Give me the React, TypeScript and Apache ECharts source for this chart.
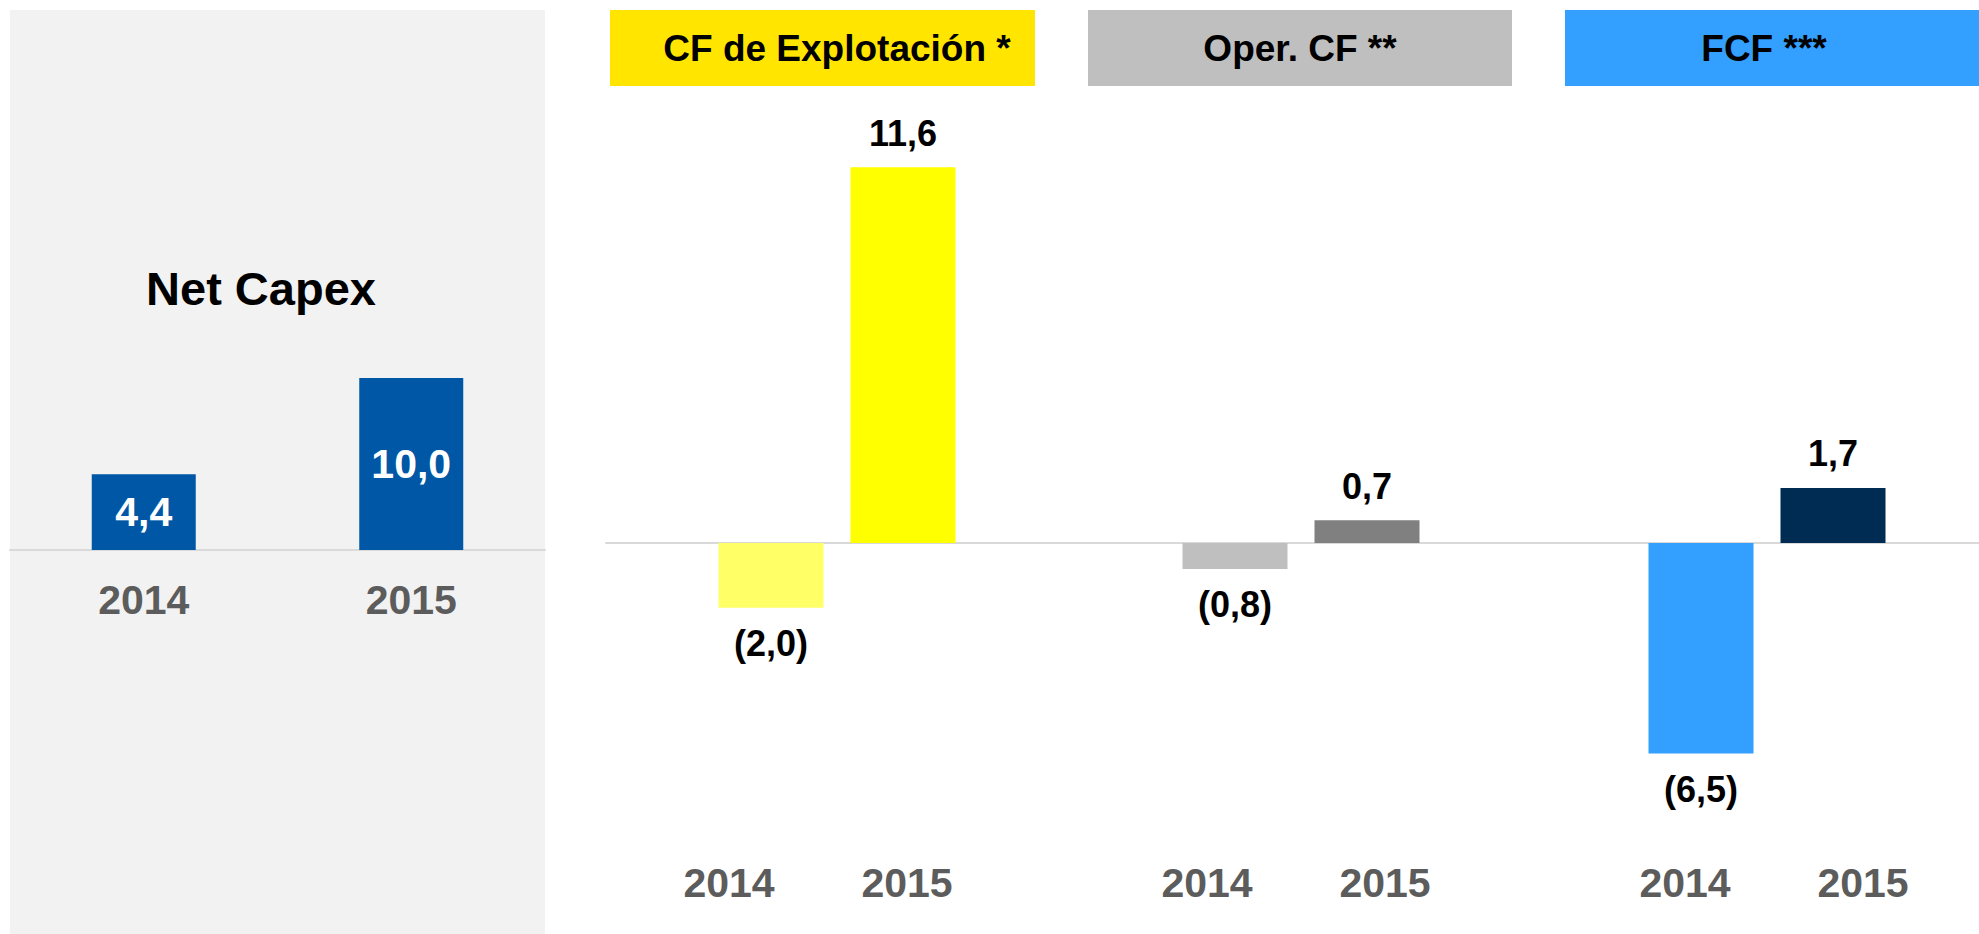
import React, { useEffect, useRef } from "react";
import * as echarts from "echarts";

const years = ["2014", "2015"];
const netCapex = [4.4, 10.0];
const cfExplotacion = [-2.0, 11.6];
const operCF = [-0.8, 0.7];
const fcf = [-6.5, 1.7];
const groupTitles = ["CF de Explotación *", "Oper. CF **", "FCF ***"];
const panelTitle = "Net Capex";

const FONT = "'Liberation Sans', Arial, Helvetica, sans-serif";

const fmt = (v: number) => {
  const s = Math.abs(v).toFixed(1).replace(".", ",");
  return v < 0 ? `(${s})` : s;
};

export default function App() {
  const ref = useRef<HTMLDivElement>(null);
  useEffect(() => {
    if (!ref.current) return;
    const chart = echarts.init(ref.current, null, { renderer: "svg" });

    const groups = [
      { values: cfExplotacion, colors: ["#FFFF66", "#FFFF00"], left: 705, labelLeft: 640, head: { x0: 610, x1: 1035, tx: 837, color: "#FFE500" } },
      { values: operCF, colors: ["#BFBFBF", "#808080"], left: 1169, labelLeft: 1118, head: { x0: 1088, x1: 1512, tx: 1300, color: "#BFBFBF" } },
      { values: fcf, colors: ["#339FFF", "#002B52"], left: 1635, labelLeft: 1596, head: { x0: 1565, x1: 1979, tx: 1764, color: "#339FFF" } },
    ];

    const RT = 154.2;
    const RH = 648;
    const YEAR_COLOR = "#5C5C5C";
    const yearLabel = { fontFamily: FONT, fontSize: 41, fontWeight: "bold", color: YEAR_COLOR };

    const grids: any[] = [{ left: 10, width: 535, top: 34, height: 516 }];
    const xAxes: any[] = [
      {
        type: "category",
        gridIndex: 0,
        data: years,
        axisLine: { show: true, onZero: true, lineStyle: { color: "#D9D9D9", width: 2 } },
        axisTick: { show: false },
        axisLabel: { ...yearLabel, margin: 29 },
      },
    ];
    const yAxes: any[] = [{ type: "value", gridIndex: 0, min: 0, max: 30, show: false, splitLine: { show: false } }];
    const series: any[] = [
      {
        type: "bar",
        xAxisIndex: 0,
        yAxisIndex: 0,
        barWidth: 104,
        data: netCapex,
        itemStyle: { color: "#0057A5" },
        label: {
          show: true,
          position: "inside",
          formatter: (p: any) => fmt(p.value),
          fontFamily: FONT,
          fontSize: 41,
          fontWeight: "bold",
          color: "#FFFFFF",
        },
      },
    ];

    groups.forEach((g, i) => {
      const idx = grids.length;
      grids.push({ left: g.left, width: 264, top: RT, height: RH });
      xAxes.push({
        type: "category",
        gridIndex: idx,
        data: years,
        axisLine: { show: false, onZero: false },
        axisTick: { show: false },
        axisLabel: { show: false },
      });
      yAxes.push({ type: "value", gridIndex: idx, min: -8, max: 12, show: false, splitLine: { show: false } });
      series.push({
        type: "bar",
        xAxisIndex: idx,
        yAxisIndex: idx,
        barWidth: 105,
        z: 3,
        data: g.values.map((v, j) => ({
          value: v,
          itemStyle: { color: g.colors[j] },
          label: { position: v < 0 ? "bottom" : "top", distance: v < 0 ? 18 : 16 },
        })),
        label: {
          show: true,
          formatter: (p: any) => fmt(p.value),
          fontFamily: FONT,
          fontSize: 36,
          fontWeight: "bold",
          color: "#000000",
        },
      });
    });

    // year labels under each right-hand group
    groups.forEach((g) => {
      const idx = grids.length;
      grids.push({ left: g.labelLeft, width: 356, top: RT, height: RH });
      xAxes.push({
        type: "category",
        gridIndex: idx,
        data: years,
        position: "bottom",
        axisLine: { show: false, onZero: false },
        axisTick: { show: false },
        axisLabel: { ...yearLabel, margin: 60 },
      });
      yAxes.push({ type: "value", gridIndex: idx, min: -8, max: 12, show: false, splitLine: { show: false } });
    });

    // zero line across the right-hand groups
    const zIdx = grids.length;
    grids.push({ left: 606, right: 0, top: RT, height: RH });
    xAxes.push({
      type: "category",
      gridIndex: zIdx,
      data: [""],
      axisLine: { show: true, onZero: true, lineStyle: { color: "#D9D9D9", width: 2 } },
      axisTick: { show: false },
      axisLabel: { show: false },
      z: 1,
    });
    yAxes.push({ type: "value", gridIndex: zIdx, min: -8, max: 12, show: false, splitLine: { show: false } });

    const graphic: any[] = [
      { type: "rect", z: -10, shape: { x: 10, y: 10, width: 535, height: 924 }, style: { fill: "#F2F2F2" } },
      {
        type: "text",
        x: 261,
        y: 288,
        style: {
          text: panelTitle,
          fontFamily: FONT,
          fontSize: 47,
          fontWeight: "bold",
          fill: "#000000",
          textAlign: "center",
          textVerticalAlign: "middle",
        },
      },
    ];
    groups.forEach((g, i) => {
      graphic.push({
        type: "rect",
        shape: { x: g.head.x0, y: 10, width: g.head.x1 - g.head.x0, height: 76 },
        style: { fill: g.head.color },
      });
      graphic.push({
        type: "text",
        x: g.head.tx,
        y: 48,
        style: {
          text: groupTitles[i],
          fontFamily: FONT,
          fontSize: 37,
          fontWeight: "bold",
          fill: "#000000",
          textAlign: "center",
          textVerticalAlign: "middle",
        },
      });
    });

    chart.setOption({
      animation: false,
      backgroundColor: "#FFFFFF",
      grid: grids,
      xAxis: xAxes,
      yAxis: yAxes,
      series,
      graphic,
    });
    return () => chart.dispose();
  }, []);

  return <div ref={ref} style={{ position: "absolute", left: 0, top: 0, width: 1979, height: 934 }} />;
}
